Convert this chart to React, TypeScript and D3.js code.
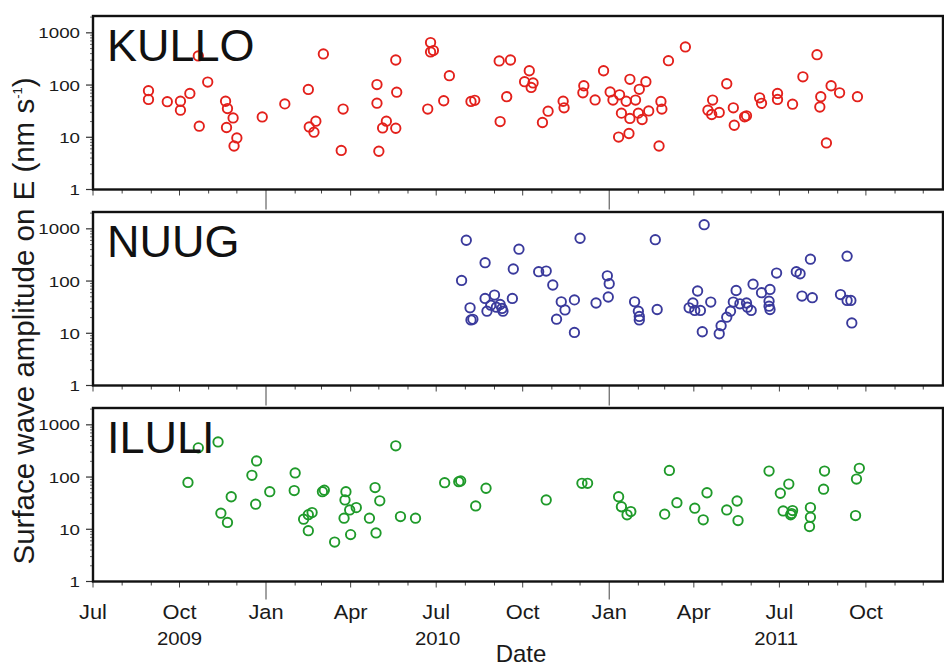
import React from "react";
import * as d3 from "d3";

// ---------- data ----------
const stations = ["KULLO", "NUUG", "ILULI"];
const stationColors = ["#e3201b", "#3a3a9c", "#1f9a2a"];

const kullo: [string, number][] = [
  ["2009-08-29", 78], ["2009-08-29", 53], ["2009-09-18", 48], ["2009-10-02", 49], ["2009-10-02", 33],
  ["2009-10-12", 69], ["2009-10-21", 361], ["2009-10-22", 16.3], ["2009-10-31", 114], ["2009-11-19", 49],
  ["2009-11-20", 15.4], ["2009-11-21", 35.5], ["2009-11-27", 23.5], ["2009-12-01", 9.7], ["2009-11-28", 6.8],
  ["2009-12-28", 24.5], ["2010-01-21", 43.6], ["2010-02-15", 82.6], ["2010-02-16", 15.8], ["2010-02-23", 20.3],
  ["2010-02-21", 12.5], ["2010-03-03", 394], ["2010-03-24", 34.7], ["2010-03-22", 5.6], ["2010-04-29", 102],
  ["2010-04-29", 45], ["2010-05-01", 5.4], ["2010-05-09", 20.3], ["2010-05-05", 15.1], ["2010-05-19", 14.9],
  ["2010-05-19", 302], ["2010-05-20", 73], ["2010-06-25", 650], ["2010-06-25", 430], ["2010-06-28", 457],
  ["2010-06-22", 34.7], ["2010-07-15", 151], ["2010-07-09", 50], ["2010-08-07", 48.5], ["2010-08-11", 51],
  ["2010-09-06", 290], ["2010-09-18", 302], ["2010-09-14", 60], ["2010-09-07", 20], ["2010-10-08", 188],
  ["2010-10-03", 116], ["2010-10-12", 110], ["2010-10-10", 90], ["2010-10-28", 31.6], ["2010-10-22", 19.2],
  ["2010-11-13", 49], ["2010-11-14", 36.6], ["2010-12-05", 97], ["2010-12-04", 71], ["2010-12-17", 52],
  ["2010-12-26", 188], ["2011-01-02", 74], ["2011-01-12", 65], ["2011-01-05", 51.5], ["2011-01-19", 49],
  ["2011-01-23", 129], ["2011-01-23", 23], ["2011-02-09", 116], ["2011-02-02", 83], ["2011-01-29", 51.5],
  ["2011-01-14", 29], ["2011-02-01", 29], ["2011-02-05", 21.9], ["2011-02-12", 32], ["2011-01-11", 10.1],
  ["2011-01-22", 11.8], ["2011-02-25", 48.5], ["2011-02-26", 34.6], ["2011-02-23", 6.8], ["2011-03-05", 293],
  ["2011-03-23", 537], ["2011-04-21", 51.5], ["2011-04-16", 33], ["2011-04-20", 27.3], ["2011-04-28", 29.9],
  ["2011-05-06", 106], ["2011-05-13", 36.6], ["2011-05-14", 17], ["2011-05-25", 24.6], ["2011-05-27", 25.7],
  ["2011-06-10", 57], ["2011-06-12", 44.6], ["2011-06-29", 69], ["2011-06-29", 53], ["2011-07-15", 43],
  ["2011-07-26", 144], ["2011-08-10", 382], ["2011-08-14", 60], ["2011-08-13", 38], ["2011-08-20", 7.8],
  ["2011-08-25", 97], ["2011-09-03", 71], ["2011-09-22", 60],
];

const nuug: [string, number][] = [
  ["2010-08-02", 605], ["2010-07-28", 103], ["2010-08-06", 30.7], ["2010-08-07", 18], ["2010-08-09", 18.5],
  ["2010-08-22", 225], ["2010-08-22", 46.5], ["2010-08-24", 26.5], ["2010-09-01", 54], ["2010-08-28", 34.5],
  ["2010-09-03", 31.6], ["2010-09-07", 35.6], ["2010-09-09", 29.9], ["2010-09-10", 26.5], ["2010-09-20", 46.5],
  ["2010-09-21", 170], ["2010-09-27", 407], ["2010-10-18", 151], ["2010-10-26", 155], ["2010-11-02", 84],
  ["2010-11-11", 40], ["2010-11-15", 28], ["2010-11-06", 18.6], ["2010-11-25", 43.6], ["2010-12-01", 660],
  ["2010-11-25", 10.4], ["2010-12-18", 38], ["2010-12-30", 126], ["2011-01-01", 89], ["2010-12-31", 49.5],
  ["2011-01-28", 40], ["2011-02-01", 26.5], ["2011-02-02", 21], ["2011-02-02", 18], ["2011-02-21", 28.5],
  ["2011-02-19", 620], ["2011-04-12", 1200], ["2011-04-05", 64.5], ["2011-03-31", 38], ["2011-03-27", 30.7],
  ["2011-04-02", 27.4], ["2011-04-08", 27.4], ["2011-04-19", 39.5], ["2011-04-10", 10.7], ["2011-04-28", 9.8],
  ["2011-04-30", 14], ["2011-05-06", 20.3], ["2011-05-10", 26.5], ["2011-05-13", 39.5], ["2011-05-16", 66],
  ["2011-05-20", 36.6], ["2011-05-27", 38], ["2011-05-28", 31.6], ["2011-06-01", 27.4], ["2011-06-03", 87],
  ["2011-06-12", 60], ["2011-06-21", 69], ["2011-06-20", 41], ["2011-06-20", 33], ["2011-06-21", 28.5],
  ["2011-06-28", 142], ["2011-07-19", 151], ["2011-07-23", 138], ["2011-08-03", 262], ["2011-07-25", 51.5],
  ["2011-08-05", 48], ["2011-09-11", 299], ["2011-09-04", 55], ["2011-09-11", 42.6], ["2011-09-15", 42.6],
  ["2011-09-16", 15.8],
];

const iluli: [string, number][] = [
  ["2009-10-10", 79], ["2009-10-21", 362], ["2009-11-11", 470], ["2009-11-14", 20.3], ["2009-11-21", 13.5],
  ["2009-11-25", 42], ["2009-12-17", 108], ["2009-12-22", 204], ["2009-12-21", 30.2], ["2010-01-05", 52.4],
  ["2010-02-01", 120], ["2010-01-31", 55], ["2010-02-10", 15.6], ["2010-02-15", 19], ["2010-02-19", 20.9],
  ["2010-02-15", 9.4], ["2010-03-02", 52.4], ["2010-03-04", 56], ["2010-03-15", 5.7], ["2010-03-27", 52.4],
  ["2010-03-26", 36.5], ["2010-03-31", 23.5], ["2010-03-25", 16.3], ["2010-04-07", 26], ["2010-04-01", 7.9],
  ["2010-04-27", 63], ["2010-05-02", 35], ["2010-04-21", 16.3], ["2010-04-28", 8.5], ["2010-05-19", 396],
  ["2010-05-24", 17.5], ["2010-06-09", 16.3], ["2010-07-10", 78], ["2010-07-25", 81.5], ["2010-07-27", 84],
  ["2010-08-12", 28], ["2010-08-23", 61], ["2010-10-26", 36.5], ["2010-12-03", 76], ["2010-12-09", 76],
  ["2011-01-11", 42], ["2011-01-14", 27], ["2011-01-24", 21.8], ["2011-01-20", 18.9], ["2011-03-06", 134],
  ["2011-03-14", 32.3], ["2011-03-01", 19.5], ["2011-04-02", 25.3], ["2011-04-11", 15.2], ["2011-04-15", 50],
  ["2011-05-06", 23.5], ["2011-05-17", 34.8], ["2011-05-18", 14.7], ["2011-06-20", 130], ["2011-07-02", 49],
  ["2011-07-11", 73.5], ["2011-07-05", 22.5], ["2011-07-14", 20], ["2011-07-15", 22.8], ["2011-07-13", 18.9],
  ["2011-08-03", 26], ["2011-08-03", 17], ["2011-08-02", 11.3], ["2011-08-18", 130], ["2011-08-17", 58.6],
  ["2011-09-24", 147], ["2011-09-21", 91.6], ["2011-09-20", 18.3],
];

const seriesData = [kullo, nuug, iluli];
const yTickValues = [1, 10, 100, 1000];
const monthNames = ["Jan", "Feb", "Mar", "Apr", "May", "Jun", "Jul", "Aug", "Sep", "Oct", "Nov", "Dec"];
const dateDomain = ["2009-07-01", "2011-12-22"];
const yDomain = [1, 2100];

// ---------- layout ----------
const W = 944;
const H = 668;
const X0 = 93;
const X1 = 943;
const PANEL_TOPS = [16, 212, 408];
const PANEL_H = 173.5;
const FONT = "'Liberation Sans', Arial, Helvetica, sans-serif";
const INK = "#1a1a1a";

const parse = d3.utcParse("%Y-%m-%d");

export default function App() {
  const x = d3
    .scaleUtc()
    .domain(dateDomain.map((d) => parse(d) as Date))
    .range([X0, X1]);
  const months = d3.utcMonth.range(parse(dateDomain[0]) as Date, d3.utcDay.offset(parse(dateDomain[1]) as Date, 1));
  const years = d3.utcYear.range(d3.utcYear.floor(x.domain()[0]), x.domain()[1]);

  return (
    <svg
      width={W}
      height={H}
      style={{ position: "absolute", left: 0, top: 0, background: "#fff" }}
      fontFamily={FONT}
    >
      <rect x={0} y={0} width={W} height={H} fill="#fff" />
      {stations.map((name, i) => {
        const top = PANEL_TOPS[i];
        const bottom = top + PANEL_H;
        const y = d3.scaleLog().domain(yDomain).range([bottom, top]);
        const minor: number[] = [];
        for (let dec = 1; dec <= 1000; dec *= 10) {
          for (let k = 2; k <= 9; k++) {
            const v = dec * k;
            if (v <= yDomain[1]) minor.push(v);
          }
        }
        const isLast = i === stations.length - 1;
        return (
          <g key={name}>
            {months.map((m, j) => {
              const mo = m.getUTCMonth();
              const len = mo === 0 ? (isLast ? 18 : 20) : mo % 3 === 0 ? 6 : 4;
              const xx = x(m);
              return (
                <line key={j} x1={xx} x2={xx} y1={bottom} y2={bottom + len} stroke="#444" strokeWidth={1} />
              );
            })}
            {minor.map((v) => (
              <line key={"m" + v} x1={X0 - 3} x2={X0} y1={y(v)} y2={y(v)} stroke="#444" strokeWidth={0.8} />
            ))}
            {yTickValues.map((v) => (
              <g key={"t" + v}>
                <line x1={X0 - 7} x2={X0} y1={y(v)} y2={y(v)} stroke="#333" strokeWidth={1.2} />
                <text
                  transform={`translate(${X0 - 13},${y(v) + 5.5}) scale(1.25,1)`}
                  textAnchor="end"
                  fontSize={15}
                  fill={INK}
                >
                  {v}
                </text>
              </g>
            ))}
            {seriesData[i].map(([d, v], j) => (
              <circle
                key={j}
                cx={x(parse(d) as Date)}
                cy={y(v)}
                r={4.7}
                fill="none"
                stroke={stationColors[i]}
                strokeWidth={1.9}
              />
            ))}
            <rect x={X0} y={top} width={X1 - X0} height={PANEL_H} fill="none" stroke="#111" strokeWidth={2.4} />
            <text x={107} y={top + 45} fontSize={45} fill="#111">
              {name}
            </text>
          </g>
        );
      })}
      {months
        .filter((m) => m.getUTCMonth() % 3 === 0)
        .map((m, j) => (
          <text
            key={"xl" + j}
            transform={`translate(${x(m)},619) scale(1.12,1)`}
            textAnchor="middle"
            fontSize={19.5}
            fill={INK}
          >
            {monthNames[m.getUTCMonth()]}
          </text>
        ))}
      {years.map((yr, j) => {
        const start = Math.max(+yr, +x.domain()[0]);
        const end = Math.min(+d3.utcYear.offset(yr, 1), +x.domain()[1]);
        const cx = x(new Date((start + end) / 2));
        return (
          <text
            key={"yr" + j}
            transform={`translate(${cx},645) scale(1.1,1)`}
            textAnchor="middle"
            fontSize={18.5}
            fill={INK}
          >
            {yr.getUTCFullYear()}
          </text>
        );
      })}
      <text x={521} y={662} textAnchor="middle" fontSize={24} fill={INK}>
        Date
      </text>
      <text
        transform={`translate(34,321) rotate(-90)`}
        textAnchor="middle"
        fontSize={29.5}
        fill={INK}
      >
        Surface wave amplitude on E (nm s
        <tspan fontSize={13} dy={-12}>-1</tspan>
        <tspan dy={12}>)</tspan>
      </text>
    </svg>
  );
}
